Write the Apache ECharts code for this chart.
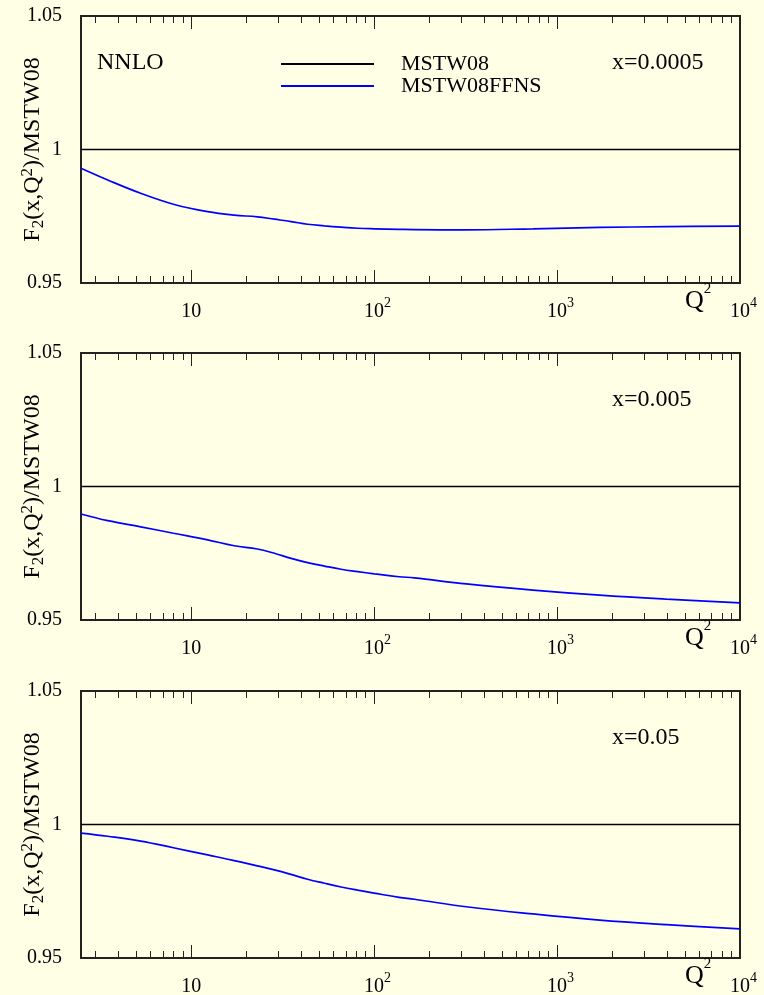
<!DOCTYPE html>
<html>
<head>
<meta charset="utf-8">
<script src="https://cdn.jsdelivr.net/npm/echarts@6/dist/echarts.min.js"></script>
<style>
  html, body { margin: 0; padding: 0; background: #ffffe6; }
  #chart { width: 764px; height: 995px; }
</style>
</head>
<body>
<div id="chart"></div>
<script>
// Q^2 sample points
const q2 = [2.5, 3.5, 5.3, 8, 12.3, 17.2, 23, 28.5, 35.2, 43.3, 53.5, 66, 81.3, 100, 137, 166, 319, 738, 1711, 3963, 10000];
// MSTW08FFNS / MSTW08 ratio, one array per x
const ffnsX0005 = [0.9930, 0.9886, 0.9836, 0.9795, 0.9767, 0.9754, 0.9748, 0.9739, 0.9730, 0.9720, 0.9714, 0.9709, 0.9705, 0.9703, 0.9701, 0.9700, 0.9699, 0.9703, 0.9708, 0.9711, 0.9713];
const ffnsX005 = [0.9897, 0.9872, 0.9849, 0.9825, 0.9800, 0.9778, 0.9766, 0.9750, 0.9731, 0.9715, 0.9702, 0.9690, 0.9681, 0.9673, 0.9662, 0.9658, 0.9635, 0.9612, 0.9593, 0.9578, 0.9564];
const ffnsX05 = [0.9968, 0.9956, 0.9938, 0.9913, 0.9886, 0.9865, 0.9845, 0.9830, 0.9813, 0.9795, 0.9780, 0.9766, 0.9754, 0.9743, 0.9727, 0.9720, 0.9692, 0.9665, 0.9642, 0.9625, 0.9609];
// reference line (MSTW08 / MSTW08)
const refQ2 = [2.5, 10000];
const refVal = [1, 1];

const panelLabels = ['x=0.0005', 'x=0.005', 'x=0.05'];
const majorTicks = [10, 100, 1000, 10000];
const minorTicks = [3, 4, 5, 6, 7, 8, 9, 20, 30, 40, 50, 60, 70, 80, 90,
  200, 300, 400, 500, 600, 700, 800, 900, 2000, 3000, 4000, 5000, 6000, 7000, 8000, 9000];
const yTicks = [0.95, 1, 1.05];

const ffns = [ffnsX0005, ffnsX005, ffnsX05];
const font = "'Liberation Serif', 'DejaVu Serif', serif";
const tops = [16, 353, 691];
const H = 267;

const chart = echarts.init(document.getElementById('chart'));

let grids = [], xAxes = [], yAxes = [], series = [], graphics = [];

function xAxis(gi, pos, ticks, len, labels) {
  return {
    type: 'log',
    logBase: 10,
    gridIndex: gi,
    position: pos,
    min: 2.5,
    max: 10000,
    axisLine: { show: false },
    splitLine: { show: false },
    axisTick: {
      show: true,
      inside: true,
      length: len,
      customValues: ticks,
      lineStyle: { color: '#222', width: 1 }
    },
    axisLabel: labels ? {
      show: true,
      customValues: majorTicks,
      margin: 13,
      color: '#000',
      fontFamily: font,
      fontSize: 20,
      formatter: function (v) {
        const e = Math.round(Math.log10(v));
        if (e === 1) return '{b|10}';
        return '{pad|}{b|10}{sup|' + e + '}';
      },
      rich: {
        b: { fontFamily: font, fontSize: 20, lineHeight: 26, verticalAlign: 'bottom' },
        sup: { fontFamily: font, fontSize: 14, lineHeight: 14, verticalAlign: 'top' },
        pad: { width: 7 }
      }
    } : { show: false }
  };
}

for (let i = 0; i < 3; i++) {
  grids.push({
    left: 81, right: 24, top: tops[i], height: H,
    outerBoundsMode: 'none',
    containLabel: false,
    show: true, borderColor: '#222', borderWidth: 2, backgroundColor: 'transparent'
  });
  xAxes.push(xAxis(i, 'bottom', majorTicks, 13, true));
  xAxes.push(xAxis(i, 'bottom', minorTicks, 7, false));
  xAxes.push(xAxis(i, 'top', majorTicks, 13, false));
  xAxes.push(xAxis(i, 'top', minorTicks, 7, false));
  yAxes.push({
    type: 'value',
    gridIndex: i,
    min: 0.95,
    max: 1.05,
    axisLine: { show: false },
    axisTick: { show: false },
    splitLine: { show: false },
    axisLabel: {
      customValues: yTicks,
      margin: 19,
      color: '#000',
      fontFamily: font,
      fontSize: 20
    },
    name: 'F{sub|2}(x,Q{sup|2})/MSTW08',
    nameLocation: 'middle',
    nameGap: 34,
    nameMoveOverlap: false,
    nameTextStyle: {
      color: '#000',
      fontFamily: font,
      fontSize: 24,
      lineHeight: 28,
      rich: {
        sub: { fontFamily: font, fontSize: 17, lineHeight: 14, verticalAlign: 'bottom', color: '#000' },
        sup: { fontFamily: font, fontSize: 17, lineHeight: 14, verticalAlign: 'top', color: '#000' }
      }
    }
  });
  series.push({
    name: 'MSTW08',
    type: 'line',
    xAxisIndex: i * 4,
    yAxisIndex: i,
    symbol: 'none',
    silent: true,
    lineStyle: { color: '#000', width: 1.6 },
    itemStyle: { color: '#000' },
    data: refQ2.map((q, k) => [q, refVal[k]])
  });
  series.push({
    name: 'MSTW08FFNS',
    type: 'line',
    xAxisIndex: i * 4,
    yAxisIndex: i,
    symbol: 'none',
    smooth: 0.4,
    silent: true,
    lineStyle: { color: '#0000ff', width: 1.7 },
    itemStyle: { color: '#0000ff' },
    data: q2.map((q, k) => [q, ffns[i][k]])
  });
  graphics.push({
    type: 'text', left: 612, top: tops[i] + 46 - 11,
    style: { text: panelLabels[i], font: '24px ' + font, fill: '#000' }
  });
  graphics.push({
    type: 'text', left: 685, top: tops[i] + H - 1,
    style: {
      text: '{b|Q}{s|2}', fill: '#000',
      rich: {
        b: { font: '26px ' + font, lineHeight: 32, verticalAlign: 'bottom', fill: '#000' },
        s: { font: '15px ' + font, lineHeight: 15, verticalAlign: 'top', fill: '#000' }
      }
    }
  });
}
graphics.push({
  type: 'text', left: 97, top: 51,
  style: { text: 'NNLO', font: '24px ' + font, fill: '#000' }
});

chart.setOption({
  backgroundColor: '#ffffe6',
  animation: false,
  grid: grids,
  xAxis: xAxes,
  yAxis: yAxes,
  legend: {
    left: 280,
    top: 53,
    padding: 0,
    orient: 'vertical',
    itemWidth: 93,
    itemHeight: 14,
    itemGap: 0,
    selectedMode: false,
    itemStyle: { opacity: 0 },
    data: ['MSTW08', 'MSTW08FFNS'],
    textStyle: { fontFamily: font, fontSize: 22, color: '#000', padding: [0, 0, 0, 22] }
  },
  graphic: graphics,
  series: series
});
</script>
</body>
</html>
